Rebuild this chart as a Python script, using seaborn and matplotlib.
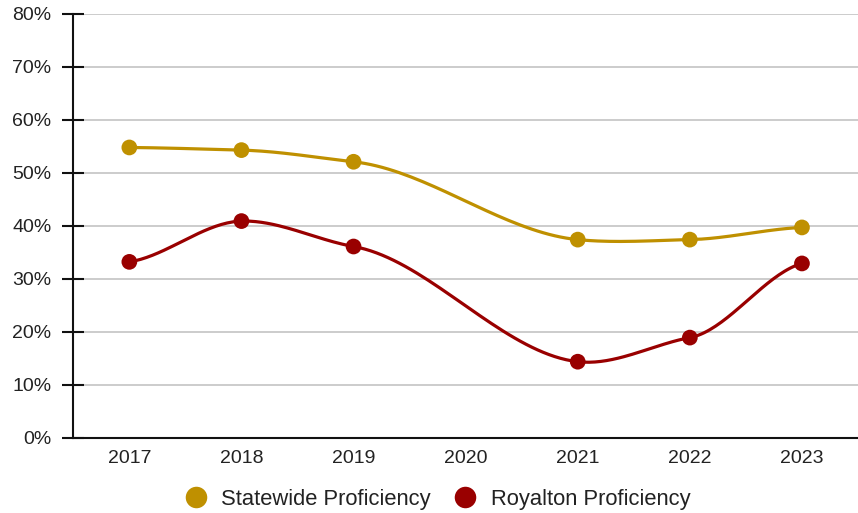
import numpy as np
import pandas as pd
import matplotlib
matplotlib.use("Agg")
import matplotlib.pyplot as plt
from matplotlib.lines import Line2D
import seaborn as sns

# Proficiency by school year (no testing in 2020)
years = ["2017", "2018", "2019", "2020", "2021", "2022", "2023"]
statewide = [54.8, 54.3, 52.1, np.nan, 37.4, 37.4, 39.7]
royalton = [33.2, 40.9, 36.1, np.nan, 14.35, 18.9, 32.9]

series_names = ["Statewide Proficiency", "Royalton Proficiency"]
series_values = [statewide, royalton]
series_colors = ["#bf9000", "#990000"]


def smooth_curve(xs, ys, tension=0.42, steps=40):
    """Cubic Hermite curve through the known points, finite-difference slopes."""
    pts = np.array([(x, y) for x, y in zip(xs, ys) if not np.isnan(y)], dtype=float)
    px, py = pts[:, 0], pts[:, 1]
    n = len(pts)
    slopes = np.zeros(n)
    for i in range(n):
        a, b = max(i - 1, 0), min(i + 1, n - 1)
        slopes[i] = (py[b] - py[a]) / (px[b] - px[a]) * tension
    out = []
    t = np.linspace(0, 1, steps)
    for i in range(n - 1):
        dx = px[i + 1] - px[i]
        p1 = np.array([px[i], py[i]])
        p2 = np.array([px[i + 1], py[i + 1]])
        c1 = p1 + np.array([dx / 3, slopes[i] * dx / 3])
        c2 = p2 - np.array([dx / 3, slopes[i + 1] * dx / 3])
        seg = ((1 - t) ** 3)[:, None] * p1 + (3 * (1 - t) ** 2 * t)[:, None] * c1 \
            + (3 * (1 - t) * t ** 2)[:, None] * c2 + (t ** 3)[:, None] * p2
        out.append(seg if i == 0 else seg[1:])
    return np.vstack(out)


sns.set_theme(style="white")
plt.rcParams["font.family"] = ["Liberation Sans", "DejaVu Sans"]

x_idx = np.arange(len(years))

curves = []
points = []
for name, vals in zip(series_names, series_values):
    c = smooth_curve(x_idx, vals)
    curves.append(pd.DataFrame({"x": c[:, 0], "y": c[:, 1], "series": name}))
    points.append(pd.DataFrame({"x": x_idx, "y": vals, "series": name}).dropna())
curve_df = pd.concat(curves, ignore_index=True)
point_df = pd.concat(points, ignore_index=True)
palette = dict(zip(series_names, series_colors))

fig = plt.figure(figsize=(8.58, 5.13), dpi=100)
ax = fig.add_axes([73.3 / 858, 1 - 437.7 / 513, 1 - 73.3 / 858, (437.7 - 14) / 513])

ax.yaxis.grid(True, color="#cccccc", linewidth=1.4)
ax.set_axisbelow(True)

sns.lineplot(data=curve_df, x="x", y="y", hue="series", palette=palette,
             sort=False, estimator=None, linewidth=2.3, legend=False, ax=ax)
sns.scatterplot(data=point_df, x="x", y="y", hue="series", palette=palette,
                s=128, linewidth=0, legend=False, ax=ax, zorder=5)

ax.set_xlim(-0.5, 6.5)
ax.set_ylim(0, 80)
ax.set_xticks(x_idx)
ax.set_xticklabels(years)
ax.set_yticks(np.arange(0, 81, 10))
ax.set_yticklabels([f"{v}%" for v in range(0, 81, 10)])
ax.set_xlabel("")
ax.set_ylabel("")

for side in ["top", "right"]:
    ax.spines[side].set_visible(False)
for side in ["left", "bottom"]:
    ax.spines[side].set_color("#111111")
    ax.spines[side].set_linewidth(1.5)

ax.tick_params(axis="y", direction="inout", length=15.6, width=1.5, color="#111111",
               pad=8, labelsize=14, labelcolor="#222222", left=True)
ax.tick_params(axis="x", length=0, pad=9, labelsize=14, labelcolor="#222222",
               bottom=True)

handles = [Line2D([], [], marker="o", linestyle="none", markersize=15.5,
                  markerfacecolor=c, markeredgewidth=0) for c in series_colors]
fig.legend(handles, series_names, loc="center", bbox_to_anchor=(0.51, 1 - 499 / 513),
           ncol=2, frameon=False, fontsize=15.8, handlelength=1.0, handletextpad=0.68,
           columnspacing=1.05, labelcolor="#222222", borderpad=0, borderaxespad=0)

fig.savefig("out.png", dpi=100)
